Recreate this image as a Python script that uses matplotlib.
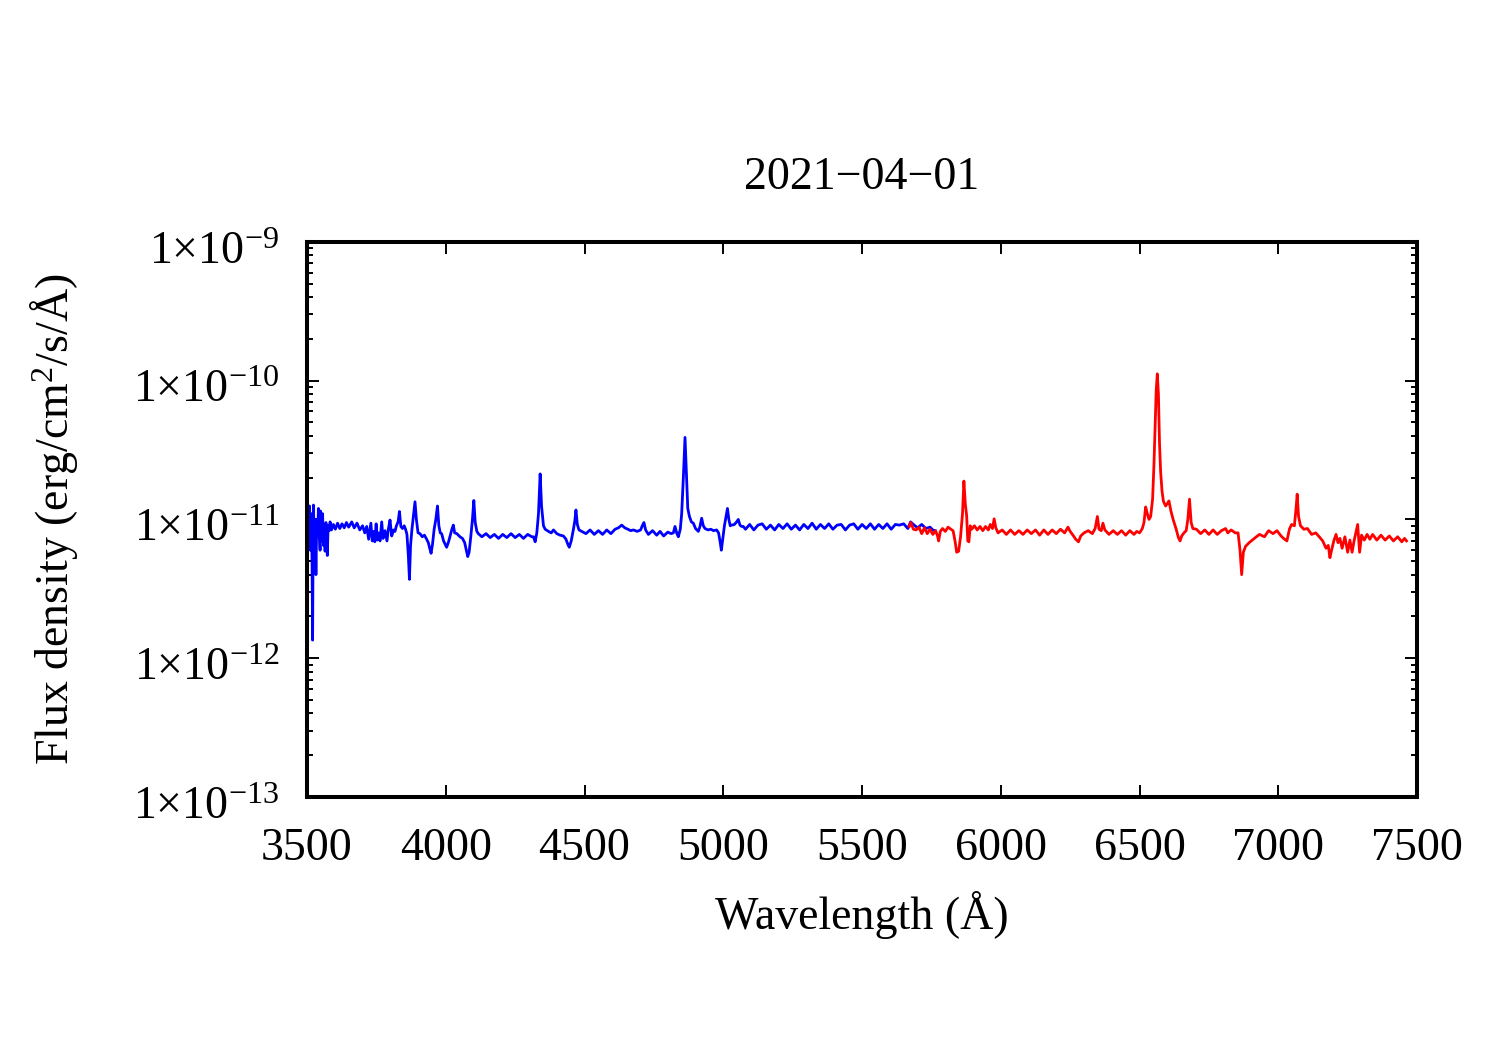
import numpy as np
import matplotlib
matplotlib.use('Agg')
import matplotlib.pyplot as plt
import matplotlib.transforms as mtransforms
from matplotlib.ticker import FixedLocator, FuncFormatter, LogLocator, NullFormatter

plt.rcParams['font.family'] = ['Liberation Serif', 'DejaVu Serif']
plt.rcParams['mathtext.fontset'] = 'custom'
plt.rcParams['mathtext.rm'] = 'Liberation Serif'
plt.rcParams['mathtext.it'] = 'Liberation Serif:italic'
plt.rcParams['mathtext.bf'] = 'Liberation Serif:bold'

title = '2021\u221204\u221201'

# blue arm: wavelength (A) and flux density in units of 1e-12 erg/cm2/s/A
blue_wl = [3505, 3509, 3512, 3515, 3518, 3520, 3522, 3523, 3526, 3529, 3532, 3535, 3538,
           3541, 3544, 3547, 3549, 3552, 3556, 3559, 3562, 3565, 3568, 3571, 3573, 3576,
           3580, 3583, 3588, 3595, 3602, 3610, 3618, 3626, 3634, 3642, 3650, 3661, 3670,
           3680, 3690, 3700, 3708, 3715, 3722, 3730, 3735, 3739, 3744, 3749, 3753, 3758,
           3763, 3769, 3774, 3781, 3788, 3793, 3799, 3805, 3812, 3817, 3822, 3828, 3833,
           3838, 3844, 3850, 3855, 3860, 3865, 3869, 3873, 3878, 3883, 3889, 3894, 3900,
           3907, 3915, 3923, 3931, 3937, 3942, 3947, 3952, 3958, 3964, 3970, 3975, 3980,
           3985, 3992, 3998, 4003, 4010, 4017, 4022, 4027, 4032, 4040, 4051, 4060, 4068,
           4074, 4079, 4084, 4090, 4096, 4101, 4106, 4112, 4117, 4130, 4145, 4160, 4175,
           4190, 4205, 4220, 4235, 4250, 4265, 4280, 4295, 4310, 4316, 4322, 4328, 4334,
           4340, 4345, 4352, 4358, 4370, 4380, 4388, 4400, 4412, 4424, 4433, 4440, 4445,
           4452, 4460, 4465, 4469, 4474, 4480, 4490, 4505, 4520, 4535, 4550, 4565, 4580,
           4595, 4610, 4622, 4634, 4645, 4656, 4666, 4676, 4690, 4702, 4708, 4714, 4720,
           4730, 4745, 4760, 4772, 4785, 4800, 4812, 4820, 4826, 4832, 4838, 4845, 4850,
           4856, 4862, 4867, 4872, 4878, 4885, 4892, 4900, 4910, 4916, 4922, 4928, 4934,
           4945, 4955, 4965, 4976, 4983, 4988, 4993, 4998, 5004, 5010, 5015, 5020, 5025,
           5030, 5040, 5048, 5054, 5060, 5066, 5072, 5080, 5095, 5110, 5125, 5140, 5155,
           5170, 5185, 5200, 5215, 5230, 5245, 5260, 5275, 5290, 5305, 5320, 5335, 5350,
           5365, 5380, 5395, 5410, 5425, 5440, 5455, 5470, 5485, 5500, 5515, 5530, 5545,
           5560, 5575, 5590, 5605, 5620, 5635, 5650, 5665, 5675, 5685, 5700, 5715, 5730,
           5745, 5755, 5763]
blue_flux = [9.5, 12.5, 6.0, 11.0, 5.0, 1.35, 8.0, 12.7, 7.0, 9.5, 4.0, 10.0, 7.5,
             12.0, 8.0, 6.0, 11.5, 7.0, 11.0, 6.5, 9.0, 5.9, 9.5, 8.0, 5.5, 9.0,
             8.3, 9.6, 8.4, 9.2, 8.5, 9.4, 8.6, 9.3, 8.7, 9.5, 8.8, 9.6, 8.7,
             9.4, 8.4, 9.0, 8.0, 8.9, 7.2, 9.4, 7.0, 8.2, 6.9, 9.3, 7.1, 8.0,
             7.0, 9.6, 7.3, 8.3, 7.0, 8.5, 9.9, 7.6, 8.4, 8.2, 9.0, 9.6, 11.4,
             8.9, 8.6, 9.0, 8.5, 7.8, 5.5, 3.7, 6.5, 8.5, 10.5, 13.4, 10.0, 8.0,
             7.9, 7.5, 7.7, 7.2, 6.8, 6.2, 5.7, 6.6, 8.5, 10.0, 12.5, 9.0, 8.0,
             7.9, 7.0, 6.6, 6.3, 6.9, 7.8, 8.5, 9.1, 8.0, 7.9, 7.5, 7.3, 6.8,
             6.0, 5.4, 5.8, 7.5, 10.0, 13.7, 9.5, 8.2, 7.9, 7.5, 7.9, 7.4, 7.8,
             7.3, 7.8, 7.4, 7.9, 7.4, 7.8, 7.3, 7.8, 7.5, 7.5, 6.9, 8.0, 11.0,
             21.3, 12.5, 9.0, 8.5, 8.2, 8.0, 8.4, 7.9, 7.7, 7.6, 7.2, 6.6, 6.3,
             7.0, 8.5, 9.8, 11.7, 9.2, 8.4, 8.2, 7.9, 8.4, 7.8, 8.3, 7.8, 8.4,
             7.9, 8.5, 8.7, 9.1, 8.7, 8.5, 8.3, 8.4, 8.2, 8.4, 9.0, 9.5, 8.4,
             7.8, 8.3, 7.7, 8.2, 7.6, 8.1, 7.9, 8.0, 8.9, 8.0, 7.5, 8.5, 11.0,
             20.0, 39.0, 22.0, 12.0, 10.5, 9.6, 9.4, 8.6, 8.2, 8.9, 10.2, 9.0, 8.6,
             8.4, 8.5, 8.3, 8.4, 8.0, 7.0, 6.0, 7.2, 9.0, 10.5, 12.0, 10.0, 9.0,
             9.1, 9.2, 9.6, 10.0, 9.1, 8.9, 8.9, 8.5, 9.2, 8.4, 9.1, 9.3, 8.5,
             9.1, 8.4, 9.2, 8.6, 9.3, 8.5, 9.1, 8.4, 9.2, 8.6, 9.4, 8.5, 9.2,
             8.6, 9.3, 8.5, 9.1, 9.2, 8.4, 9.1, 9.3, 8.5, 9.2, 8.6, 9.3, 8.5,
             9.2, 8.6, 9.3, 8.5, 9.2, 9.1, 9.3, 8.6, 9.6, 9.2, 8.7, 9.2, 8.6,
             8.8, 8.4, 8.3]

# red arm
red_wl = [5670, 5676, 5685, 5695, 5705, 5715, 5725, 5735, 5745, 5755, 5765, 5772, 5776,
          5782, 5790, 5800, 5810, 5820, 5828, 5835, 5841, 5848, 5855, 5862, 5867, 5872,
          5877, 5881, 5885, 5890, 5895, 5905, 5915, 5925, 5935, 5945, 5955, 5962, 5970,
          5976, 5982, 5990, 6005, 6020, 6035, 6050, 6065, 6080, 6095, 6110, 6125, 6140,
          6155, 6170, 6185, 6200, 6215, 6230, 6242, 6250, 6260, 6270, 6280, 6288, 6300,
          6315, 6330, 6340, 6348, 6354, 6362, 6368, 6375, 6390, 6405, 6420, 6435, 6450,
          6465, 6480, 6490, 6500, 6510, 6516, 6522, 6528, 6534, 6540, 6547, 6552, 6556,
          6560, 6564, 6568, 6572, 6576, 6581, 6586, 6594, 6600, 6606, 6613, 6621, 6632,
          6640, 6646, 6652, 6660, 6668, 6674, 6680, 6686, 6692, 6705, 6720, 6735, 6750,
          6765, 6780, 6795, 6810, 6818, 6830, 6845, 6855, 6862, 6868, 6874, 6882, 6895,
          6910, 6932, 6950, 6965, 6981, 6995, 7010, 7019, 7031, 7040, 7048, 7058, 7064,
          7068, 7073, 7080, 7092, 7105, 7120, 7135, 7150, 7160, 7172, 7180, 7186, 7192,
          7200, 7208, 7215, 7222, 7230, 7240, 7250, 7258, 7266, 7273, 7286, 7293, 7300,
          7310, 7320, 7330, 7340, 7355, 7370, 7385, 7400, 7415, 7430, 7445, 7455, 7462]
red_flux = [8.9, 9.5, 8.5, 8.4, 8.8, 7.9, 8.7, 7.9, 8.5, 7.8, 8.3, 7.6, 7.0,
            8.2, 8.6, 8.2, 8.8, 8.5, 8.3, 7.0, 5.8, 5.9, 7.5, 11.0, 18.9, 13.0,
            10.6, 7.0, 6.9, 9.0, 8.5, 9.0, 8.4, 8.9, 8.3, 8.9, 8.4, 9.2, 8.6,
            10.1, 8.7, 8.0, 8.4, 7.8, 8.4, 7.8, 8.3, 7.8, 8.4, 7.9, 8.4, 7.7,
            8.4, 7.8, 8.4, 7.9, 8.5, 8.0, 8.8, 8.2, 7.7, 7.2, 6.9, 7.6, 8.0,
            8.3, 7.9, 8.6, 10.5, 8.5, 8.3, 9.4, 8.4, 7.8, 8.3, 7.8, 8.3, 7.7,
            8.3, 7.8, 8.2, 8.0, 8.6, 9.5, 12.3, 11.0, 10.0, 10.5, 14.0, 25.0, 45.0,
            85.0, 112.0, 80.0, 35.0, 22.0, 16.0, 13.5, 12.5, 13.0, 13.6, 11.5, 10.0, 8.5,
            7.4, 7.0, 7.6, 8.0, 8.3, 10.0, 14.0, 9.5, 8.6, 8.5, 7.9, 8.4, 7.8,
            8.4, 7.8, 8.3, 8.6, 8.0, 8.4, 8.0, 8.0, 6.0, 4.0, 5.8, 6.4, 6.8,
            7.2, 7.8, 7.5, 8.3, 7.9, 8.3, 7.6, 7.3, 7.0, 8.5, 9.2, 9.0, 12.0,
            15.2, 10.5, 9.0, 8.5, 8.6, 7.8, 8.0, 7.4, 7.0, 6.2, 6.5, 5.3, 6.0,
            7.0, 7.8, 6.8, 7.3, 6.2, 7.5, 5.8, 7.1, 5.8, 7.0, 9.2, 5.8, 7.7,
            7.1, 7.8, 7.2, 7.8, 7.1, 7.7, 7.1, 7.6, 7.0, 7.5, 6.9, 7.3, 7.0]

fig = plt.figure(figsize=(15, 10.5), dpi=100)
ax = fig.add_axes([0.2047, 0.2410, 0.7400, 0.5286])

ax.plot(blue_wl, np.array(blue_flux) * 1e-12, color='#0000ff', lw=2.0)
ax.plot(red_wl, np.array(red_flux) * 1e-12, color='#ff0000', lw=2.0)

ax.set_yscale('log')
ax.set_xlim(3500, 7500)
ax.set_ylim(1e-13, 1e-9)

ax.xaxis.set_major_locator(FixedLocator([3500, 4000, 4500, 5000, 5500, 6000, 6500, 7000, 7500]))
ax.yaxis.set_major_locator(FixedLocator([1e-13, 1e-12, 1e-11, 1e-10, 1e-9]))
ax.yaxis.set_minor_locator(LogLocator(base=10, subs=np.arange(2, 10)))
ax.yaxis.set_minor_formatter(NullFormatter())
ax.yaxis.set_major_formatter(FuncFormatter(
    lambda v, p: r'$1{\times}10^{%d}$' % int(round(np.log10(v)))))

for s in ax.spines.values():
    s.set_linewidth(2.9)
ax.tick_params(which='both', direction='in', top=True, right=True, labelsize=33)
ax.tick_params(which='major', length=8.5, width=1.4)
ax.tick_params(which='minor', length=4.5, width=1.4)
ax.tick_params(axis='x', pad=22)
ax.tick_params(axis='y', pad=20)

# gnuplot puts the base of the label a little below the tick
shift = mtransforms.ScaledTranslation(0, -4 / 72, fig.dpi_scale_trans)
for lab in ax.get_yticklabels():
    lab.set_transform(lab.get_transform() + shift)

ax.set_title(title, fontsize=33, pad=38)
ax.set_xlabel('Wavelength (\u00c5)', fontsize=33, labelpad=15)
ax.set_ylabel('Flux density (erg/cm$^2$/s/\u00c5)', fontsize=33, labelpad=38)

fig.savefig('out.png', dpi=100)
